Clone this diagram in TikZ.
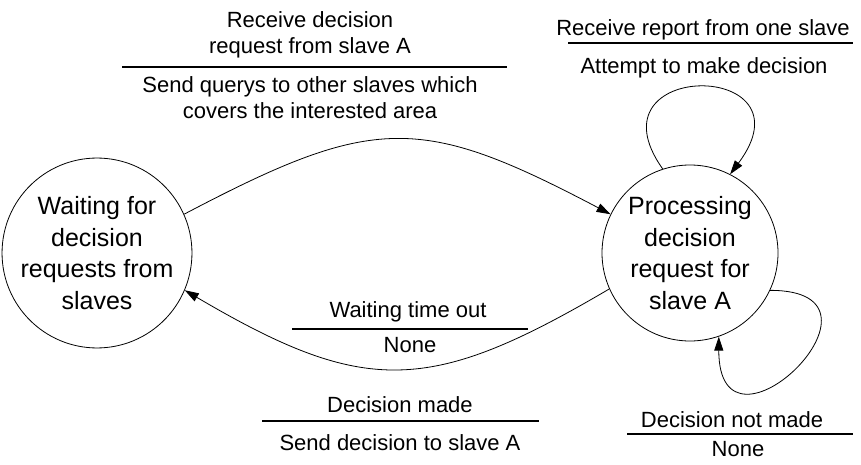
\documentclass[tikz,border=0pt]{standalone}
\usepackage{fontspec}
\setmainfont{Liberation Sans}
\usetikzlibrary{arrows.meta}
\tikzset{
  state/.style={circle,draw,line width=0.8pt,minimum size=176pt,inner sep=0pt,
    align=center,font=\fontsize{25}{31.5}\selectfont},
  trlabel/.style={inner sep=0pt,align=center,anchor=north,
    font=\fontsize{22}{26}\selectfont},
  trrule/.style={line width=1.2pt},
  trans/.style={line width=0.8pt,-{Triangle[length=14pt,width=9pt]}}
}
\begin{document}
\begin{tikzpicture}[x=1pt,y=-1pt]
\useasboundingbox (0,0) rectangle (861,465);

\node (W) at (97, 253) [state] {Waiting for\\decision\\requests from\\slaves};
\node (P) at (690, 253) [state] {Processing\\decision\\request for\\slave A};

% labels of the transitions
\node (e1) at (310, 11) [trlabel] {Receive decision\\request from slave A};
\draw[trrule] (122, 67) -- (507, 67);
\node (a1) at (310, 76) [trlabel] {Send querys to other slaves which\\covers the interested area};

\node (e2) at (703, 19) [trlabel] {Receive report from one slave};
\draw[trrule] (568, 43) -- (853, 43);
\node (a2) at (704, 57) [trlabel] {Attempt to make decision};

\node (e3) at (408, 301) [trlabel] {Waiting time out};
\draw[trrule] (292, 329) -- (528, 329);
\node (a3) at (410, 337) [trlabel] {None};

\node (e4) at (400, 396) [trlabel] {Decision made};
\draw[trrule] (262, 421) -- (539, 421);
\node (a4) at (400, 434) [trlabel] {Send decision to slave A};

\node (e5) at (732, 411) [trlabel] {Decision not made};
\draw[trrule] (627, 434) -- (853, 434);
\node (a5) at (738, 441) [trlabel] {None};

\draw[trans] (W.24) .. controls +(190,-100) and +(-190,-100) .. (P.154);
\draw[trans] (P.204) .. controls +(-180,106) and +(180,106) .. (W.-23);
\draw[trans] (P.108) .. controls +(-78,-110) and +(86,-115) .. (P.63);
\draw[trans] (P.-25) .. controls +(140,0) and +(0,140) .. (P.-71);
\end{tikzpicture}
\end{document}
